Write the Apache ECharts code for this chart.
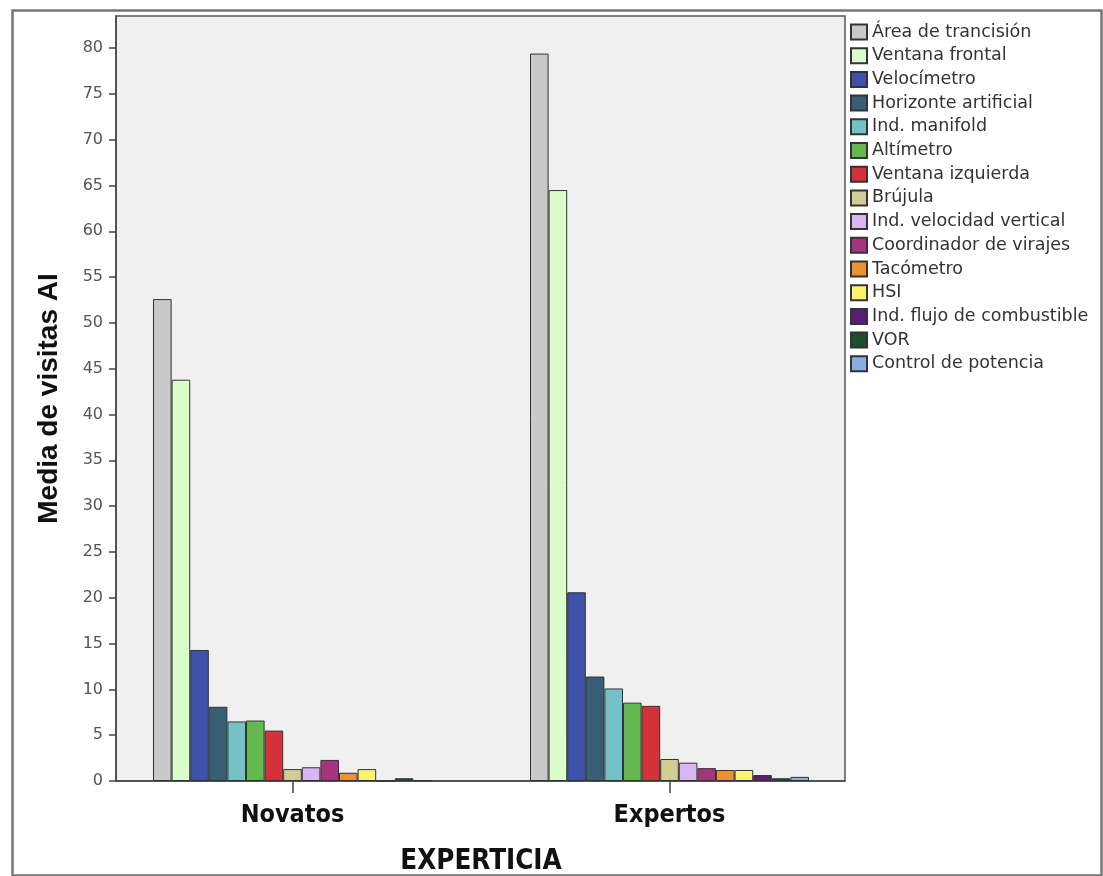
<!DOCTYPE html>
<html>
<head>
<meta charset="utf-8">
<script src="https://cdn.jsdelivr.net/npm/echarts@6/dist/echarts.min.js"></script>
<style>
html,body{margin:0;padding:0;background:#fff;}
#chart{width:1103px;height:876px;}
</style>
</head>
<body>
<div id="chart"></div>
<script>
const categories = ['Novatos', 'Expertos'];
const seriesNames = ['Área de trancisión','Ventana frontal','Velocímetro','Horizonte artificial','Ind. manifold','Altímetro','Ventana izquierda','Brújula','Ind. velocidad vertical','Coordinador de virajes','Tacómetro','HSI','Ind. flujo de combustible','VOR','Control de potencia'];
const novatos  = [52.6, 43.8, 14.3, 8.1, 6.5, 6.6, 5.5, 1.3, 1.5, 2.3, 0.9, 1.3, 0, 0.3, 0.1];
const expertos = [79.4, 64.5, 20.6, 11.4, 10.1, 8.55, 8.2, 2.4, 2.0, 1.4, 1.2, 1.2, 0.65, 0.3, 0.45];
const colors = ['#c9c9c9','#dbfdcb','#3d52a8','#375e74','#73c2c6','#65b84f','#d5313a','#d3cc97','#d9b6f2','#a3357f','#eb9231','#faf36b','#5b1e78','#1f4e2c','#8aaee0'];
const yTicks = [0,5,10,15,20,25,30,35,40,45,50,55,60,65,70,75,80];

const condensed = "'DejaVu Sans Condensed','Liberation Sans Narrow','Liberation Sans',sans-serif";
const chart = echarts.init(document.getElementById('chart'), null, {renderer:'canvas'});
const series = seriesNames.map((name, i) => ({
  name: name,
  type: 'bar',
  xAxisIndex: 1,
  yAxisIndex: 1,
  data: [novatos[i], expertos[i]],
  barGap: '0%',
  barCategoryGap: '26%',
  itemStyle: { color: colors[i], borderColor: '#333', borderWidth: 1 },
  emphasis: { disabled: true },
  animation: false
}));

chart.setOption({
  animation: false,
  backgroundColor: '#fff',
  graphic: [{
    type: 'rect', left: 10, top: 8, silent: true,
    shape: { width: 1089, height: 865 },
    style: { fill: 'none', stroke: '#777', lineWidth: 2.5 }
  }],
  grid: [
    { left: 116, right: 258, top: 16, bottom: 95, outerBoundsMode: 'none', containLabel: false,
      show: true, backgroundColor: '#f0f0f0', borderColor: '#555', borderWidth: 1.5 },
    { left: 104, right: 245, top: 16, bottom: 95, outerBoundsMode: 'none', containLabel: false, show: false }
  ],
  legend: {
    orient: 'vertical', left: 845, top: 18,
    itemWidth: 16, itemHeight: 15, itemGap: 5.7,
    icon: 'rect',
    selectedMode: false,
    textStyle: { fontFamily: 'DejaVu Sans', fontSize: 17.5, color: '#333' },
    data: seriesNames
  },
  xAxis: [
    { type: 'category', gridIndex: 0, data: categories,
      axisLine: { lineStyle: { color: '#444', width: 1.5 } },
      axisTick: { show: false }, axisLabel: { show: false } },
    { type: 'category', gridIndex: 1, data: categories,
      axisLine: { show: false },
      axisTick: { show: true, alignWithLabel: true, length: 12, lineStyle: { color: '#444', width: 1.5 } },
      axisLabel: { margin: 22, color: '#111', fontWeight: 'bold', fontSize: 25, fontFamily: condensed },
      name: 'EXPERTICIA',
      nameLocation: 'middle',
      nameGap: 67,
      nameTextStyle: { color: '#111', fontWeight: 'bold', fontSize: 27.5, fontFamily: condensed } }
  ],
  yAxis: [
    { type: 'value', gridIndex: 0,
      min: 0, max: 83.5, interval: 5,
      axisLine: { show: true, lineStyle: { color: '#444', width: 1.5 } },
      axisTick: { show: true, length: 7, customValues: yTicks, lineStyle: { color: '#444', width: 1.5 } },
      axisLabel: { customValues: yTicks, margin: 13, color: '#555', fontSize: 16, fontFamily: 'DejaVu Sans' },
      splitLine: { show: false },
      name: 'Media de visitas AI',
      nameLocation: 'middle',
      nameGap: 53,
      nameTextStyle: { color: '#111', fontWeight: 'bold', fontSize: 28, fontFamily: "'Liberation Sans',Arial,sans-serif" } },
    { type: 'value', gridIndex: 1, min: 0, max: 83.5, interval: 5,
      show: false, splitLine: { show: false } }
  ],
  series: series
});
</script>
</body>
</html>
